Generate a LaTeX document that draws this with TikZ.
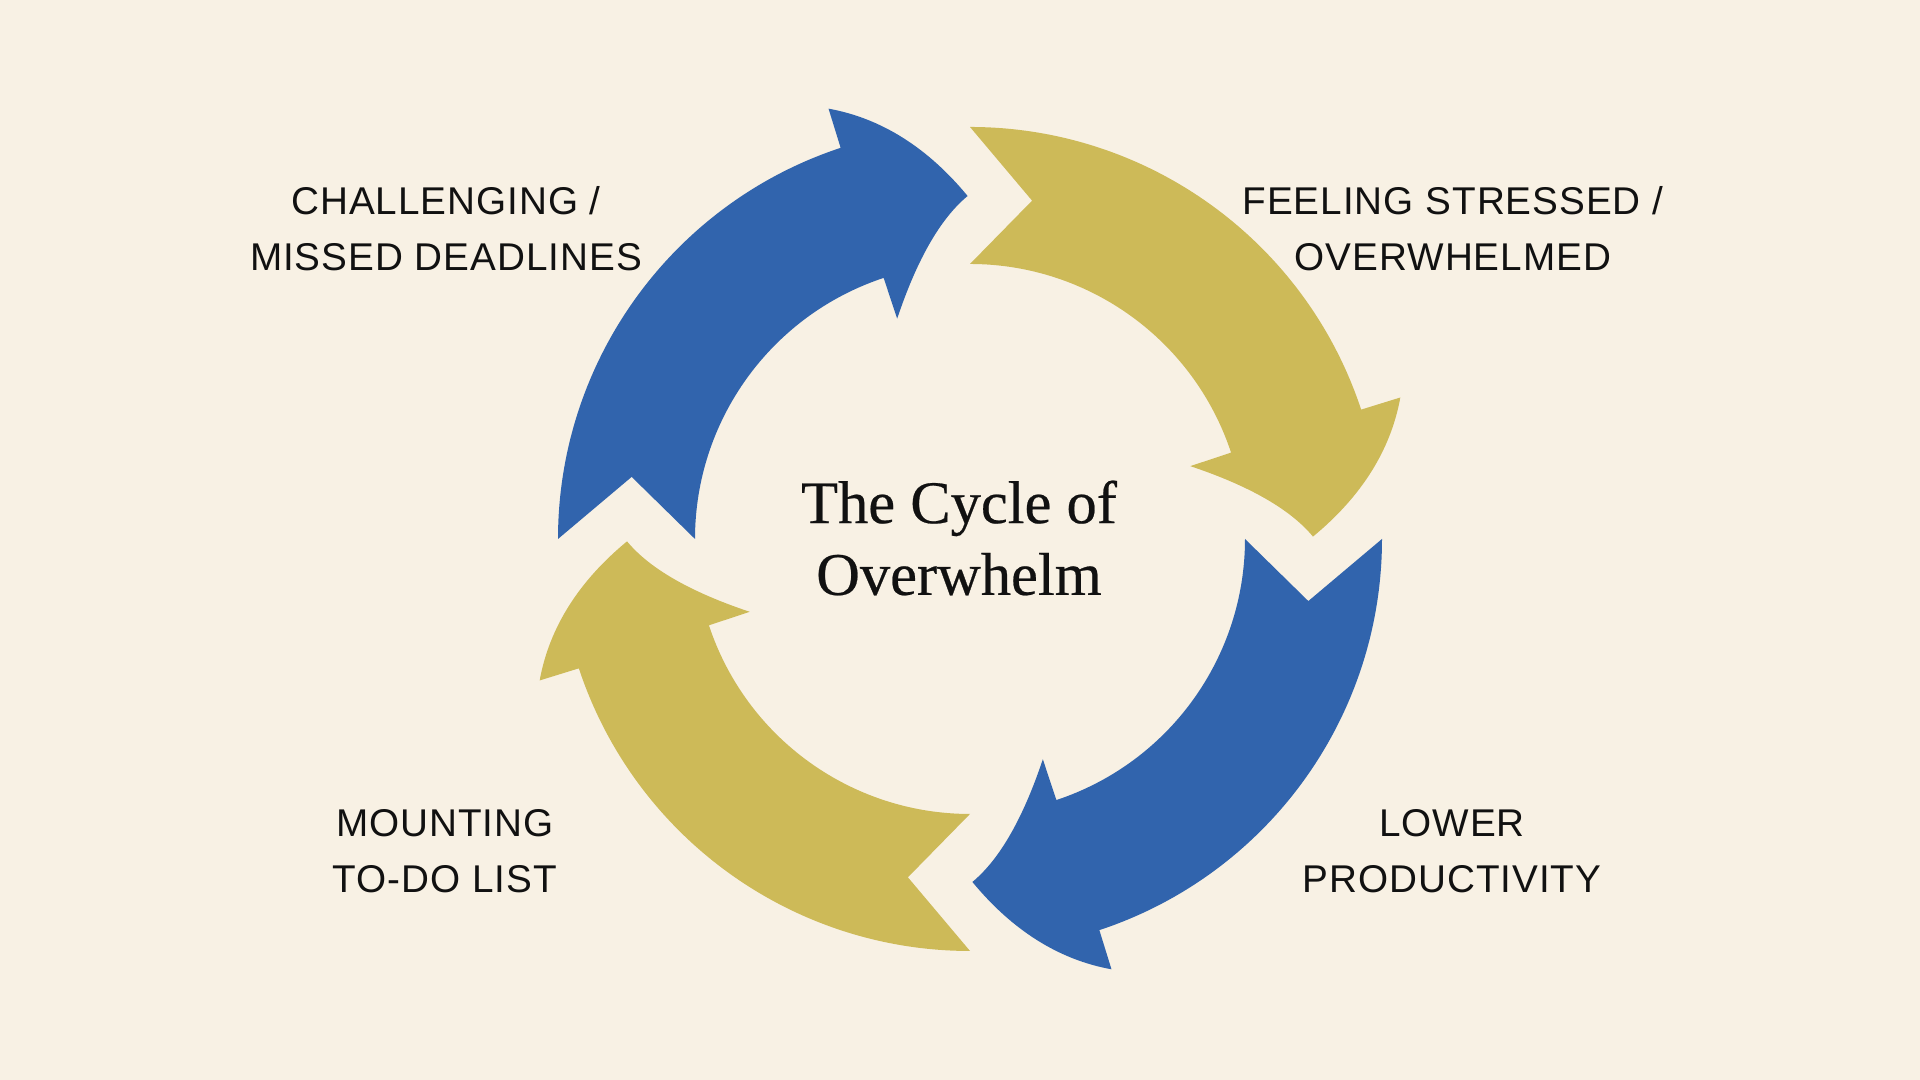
\documentclass[tikz,border=0pt]{standalone}
\usepackage{fontspec}
\setmainfont{Liberation Serif}
\newfontfamily\ttlfont[FakeBold=0.4]{Liberation Serif}
\newfontfamily\lblfont[LetterSpace=2.5]{Liberation Sans}
\usepackage{xcolor}
\usepackage{tikz}
\usetikzlibrary{calc}
\definecolor{bgcol}{RGB}{248,241,228}
\definecolor{loopblue}{RGB}{49,100,173}
\definecolor{loopgold}{RGB}{205,186,88}
\definecolor{inkcol}{RGB}{17,17,17}
\tikzset{
  stage/.style={align=center,text=inkcol,inner sep=0pt,font=\lblfont\fontsize{11}{16}\selectfont},
  ttl/.style={align=center,text=inkcol,inner sep=0pt,font=\ttlfont\fontsize{17.2}{20.4}\selectfont},
  cyclearr/.pic={
    \fill (180:412) arc[start angle=180,end angle=108.3,radius=412]
      -- (108.2:453) .. controls (101.9:430) and (96.15:393.5) .. (90.4:343)
      .. controls (95.16:322.3) and (100.63:285.6) .. (108.3:232)
      -- (108.3:275) arc[start angle=108.3,end angle=180,radius=275]
      -- (169.6:344) -- cycle;
  }
}

\begin{document}
\begin{tikzpicture}[x=0.01cm,y=0.01cm]
  \fill[bgcol] (0,0) rectangle (1920,1080);
  \useasboundingbox (0,0) rectangle (1920,1080);
  \coordinate (c) at (970,541);
  % four arrows round the loop, clockwise
  \pic[fill=loopblue] at (c) {cyclearr};
  \pic[fill=loopgold,rotate=-90] at (c) {cyclearr};
  \pic[fill=loopblue,rotate=-180] at (c) {cyclearr};
  \pic[fill=loopgold,rotate=-270] at (c) {cyclearr};
  \node[ttl] (title) at (959,542) {The Cycle of\\Overwhelm};
  \node[stage] (chl) at (446,851) {CHALLENGING /\\MISSED DEADLINES};
  \node[stage] (fst) at (1453,851) {FEELING STRESSED /\\OVERWHELMED};
  \node[stage] (lpr) at (1452,229) {LOWER\\PRODUCTIVITY};
  \node[stage] (mtd) at (445,229) {MOUNTING\\TO-DO LIST};
\end{tikzpicture}
\end{document}
